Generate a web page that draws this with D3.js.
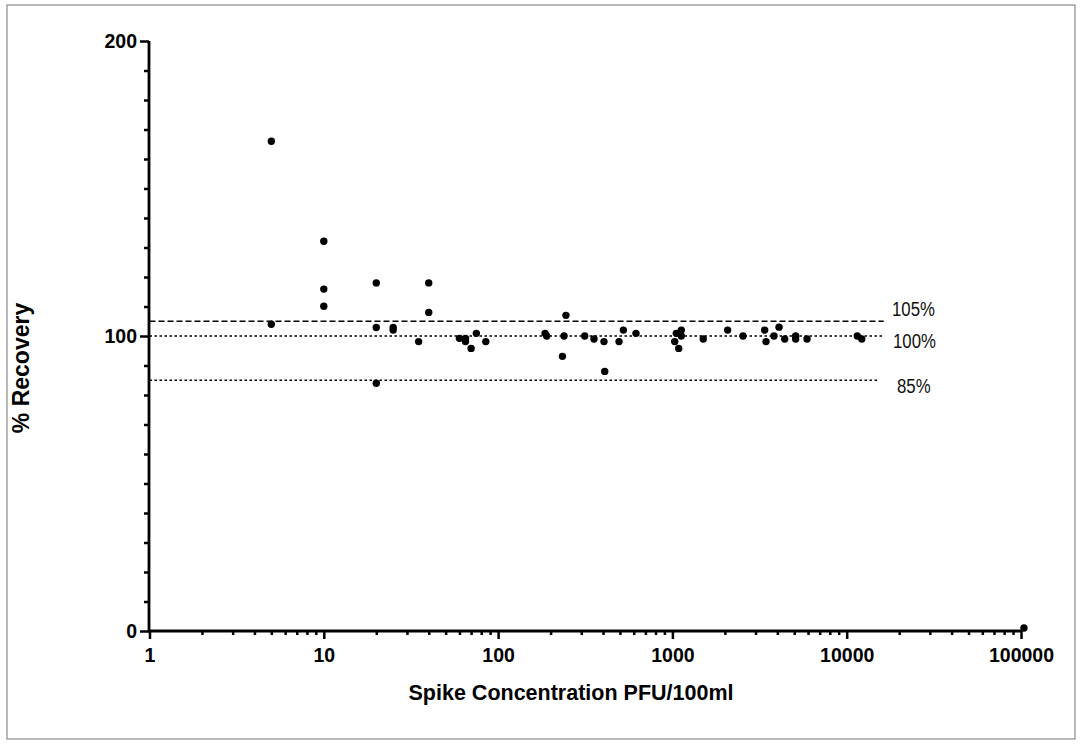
<!DOCTYPE html>
<html><head><meta charset="utf-8">
<script src="https://cdn.jsdelivr.net/npm/d3@7"></script>
<style>body{margin:0;background:#fff}svg{display:block}</style>
</head><body><svg id="c" width="1080" height="744"></svg>
<script>
// Spike concentration (PFU/100ml)
const concentration = [5,5,10,10,10,20,20,20,25,25,35,40,40,60,65,65,70,75,85,
  186,190,245,239,234,314,355,405,409,494,523,618,
  1031,1053,1087,1125,1125,1503,2075,2540,3385,3445,3827,4090,4409,5095,5095,5918,11500,12200,104000];
// % recovery
const recovery = [166,104,132.1,115.9,110.1,118,102.9,84,102.9,102,98.1,118,108,99.2,99.2,98.1,95.8,100.9,98.1,
  100.9,100,107,100,93.1,100,99,98.1,88,98.1,102,100.9,
  98.1,100.9,95.8,102,100,99,102,100,102,98.1,100,103,99,100,99,99,100,99,1];
const refValues = [105,100,85];
const refLabels = ["105%","100%","85%"];
const refEnds = [16300,16000,15300];
const xTickValues = [1,10,100,1000,10000,100000];
const yTickValues = [0,100,200];

const svg = d3.select("#c");
svg.append("rect").attr("x",7).attr("y",5).attr("width",1068).attr("height",734)
  .attr("fill","none").attr("stroke","#8a8a8a").attr("stroke-width",1.2);

const x = d3.scaleLog().domain([1,100000]).range([149.5,1021]);
const y = d3.scaleLinear().domain([0,200]).range([631,41]);

// reference lines
const dashes = ["6,3","2.5,2.5","2.5,2.5"];
const g = svg.append("g");
refValues.forEach((v,i)=>{
  g.append("line").attr("x1",x(1)).attr("x2",x(refEnds[i])).attr("y1",y(v)).attr("y2",y(v))
   .attr("stroke","#000").attr("stroke-width",1.3).attr("stroke-dasharray",dashes[i]);
});
const labDx=[892,893,897], labDy=[-5,12,13];
refValues.forEach((v,i)=>{
  svg.append("text").attr("transform",`translate(${labDx[i]},${y(v)+labDy[i]}) scale(0.8,1)`)
    .attr("font-family","'Liberation Sans',Arial,sans-serif")
    .attr("font-size",21).attr("fill","#111").text(refLabels[i]);
});

// minor ticks
const yMinor = d3.range(0,201,10).filter(v=>v%100!==0);
const xMinor = [];
for(let d=1; d<100000; d*=10) for(let k=2;k<=9;k++) xMinor.push(d*k);

const yAxis = svg.append("g").attr("transform","translate(149,0)");
yAxis.call(d3.axisLeft(y).tickValues(yMinor).tickSize(5).tickFormat(""));
yAxis.call(g2=>g2.selectAll(".tick line").attr("stroke-width",2.5));
const yMaj = svg.append("g").attr("transform","translate(149,0)")
  .call(d3.axisLeft(y).tickValues(yTickValues).tickSize(9).tickPadding(3).tickFormat(d3.format("d")));
yMaj.selectAll(".tick line").attr("stroke-width",2.5);
yMaj.selectAll(".tick text").attr("font-family","'Liberation Sans',Arial,sans-serif").attr("font-weight","bold").attr("font-size",19.5).attr("fill","#000");
yAxis.select(".domain").attr("stroke-width",2.8).attr("d","M0,631V41");
yMaj.select(".domain").remove();

const xAxis = svg.append("g").attr("transform","translate(0,631)");
xAxis.call(d3.axisBottom(x).tickValues(xMinor).tickSize(4).tickFormat(""));
xAxis.selectAll(".tick line").attr("stroke-width",2.5);
xAxis.select(".domain").attr("stroke-width",2.8).attr("d","M148,0H1021");
const xMaj = svg.append("g").attr("transform","translate(0,631)")
  .call(d3.axisBottom(x).tickValues(xTickValues).tickSize(8).tickPadding(9).tickFormat(d3.format("d")));
xMaj.select(".domain").remove();
xMaj.selectAll(".tick line").attr("stroke-width",2.5);
xMaj.selectAll(".tick text").attr("font-family","'Liberation Sans',Arial,sans-serif").attr("font-weight","bold").attr("font-size",19.5).attr("fill","#000");

// points
svg.append("g").selectAll("circle").data(concentration).join("circle")
  .attr("cx",d=>x(d)).attr("cy",(d,i)=>y(recovery[i])).attr("r",3.7).attr("fill","#000");

// titles
svg.append("text").attr("x",571).attr("y",700).attr("text-anchor","middle")
  .attr("font-family","'Liberation Sans',Arial,sans-serif").attr("font-weight","bold").attr("font-size",21.5)
  .text("Spike Concentration PFU/100ml");
svg.append("text").attr("transform","translate(29,368) rotate(-90)").attr("text-anchor","middle")
  .attr("font-family","'Liberation Sans',Arial,sans-serif").attr("font-weight","bold").attr("font-size",23)
  .text("% Recovery");
</script></body></html>
